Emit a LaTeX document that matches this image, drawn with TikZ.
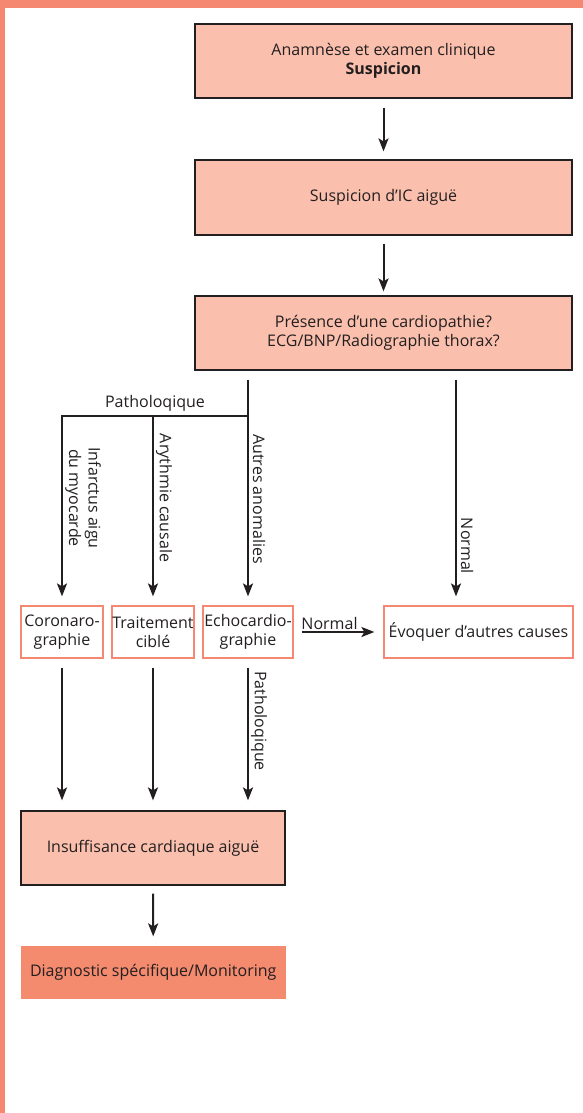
\documentclass[tikz,border=0pt]{standalone}
\usepackage{fontspec}
\setmainfont{Open Sans}
\usetikzlibrary{arrows.meta, positioning}
\definecolor{frame}{HTML}{F58870}
\definecolor{pale}{HTML}{FBC0AD}
\definecolor{deep}{HTML}{F48A6E}
\definecolor{ink}{HTML}{231F20}

\begin{document}
\begin{tikzpicture}[x = 1pt, y = -1pt,
        every node/.style = {font = \fontsize{16}{19.5}\selectfont, text = ink},
        mainbox/.style = {draw = ink, line width = 1.2pt, fill = pale, minimum width = 377pt, minimum height = 74pt, align = center, inner sep = 0pt},
        smallbox/.style = {draw = frame, line width = 1.2pt, fill = white, minimum height = 52pt, align = center, inner sep = 0pt},
        link/.style = {draw = ink, line width = 2pt, -{Stealth[length = 13pt, width = 10pt, inset = 3pt]}},
        lab/.style = {inner sep = 0pt, align = center}]
        \useasboundingbox (0, 0) rectangle (583, 1113);
        \fill [frame] (0, 0) rectangle (583, 8);
        \fill [frame] (0, 0) rectangle (4.5, 1113);

        \node [mainbox] (anam) at (383.5, 61) {Anamnèse et examen clinique\\\textbf{Suspicion}};
        \node [mainbox, minimum height = 75pt] (susp) at (383.5, 197.5) {Suspicion d’IC aiguë};
        \node [mainbox] (pres) at (383.5, 333) {Présence d’une cardiopathie?\\ECG/BNP/Radiographie thorax?};

        \node [smallbox, minimum width = 82pt] (coro) at (62, 632) {Coronaro-\\graphie};
        \node [smallbox, minimum width = 82pt] (trait) at (153, 632) {Traitement\\ciblé};
        \node [smallbox, minimum width = 90pt] (echo) at (248, 632) {Echocardio-\\graphie};
        \node [smallbox, minimum width = 189pt] (autres) at (478.5, 632) {Évoquer d’autres causes};

        \node [mainbox, minimum width = 264pt] (ica) at (153, 848) {Insuffisance cardiaque aiguë};
        \node [mainbox, draw = none, fill = deep, minimum width = 264.5pt, minimum height = 53pt] (diag) at (153.25, 972.5) {Diagnostic spécifique/Monitoring};

        \coordinate (fork) at (248, 416);
        \coordinate (normx) at (456, 0);

        % top chain
        \draw [link, shorten < = 9pt, shorten > = 8pt] (anam.south) -- (susp.north);
        \draw [link, shorten < = 8pt, shorten > = 4pt] (susp.south) -- (pres.north);

        % pathological branches
        \draw [link, shorten < = 9pt, shorten > = 9pt] (pres.south -| echo) -- (echo.north);
        \draw [link, shorten > = 9pt] (fork) -- node [lab, above = 4pt] (patho) {Patholoqique} (fork -| coro) -- (coro.north);
        \draw [link, shorten > = 9pt] (fork -| trait) -- (trait.north);
        \node [lab, rotate = -90] (infarct) at (83, 498) {Infarctus aigu\\du myocarde};
        \node [lab, rotate = -90] (arythm) at (164, 498) {Arythmie causale};
        \node [lab, rotate = -90] (anomal) at (259, 499) {Autres anomalies};

        % normal branch
        \draw [link, shorten < = 9pt, shorten > = 9pt] (pres.south -| normx) -- (autres.north -| normx);
        \node [lab, rotate = -90] (normv) at (467, 546) {Normal};
        \draw [link, shorten < = 8pt, shorten > = 9pt] (echo.east) -- node [lab, pos = 0.4, above = 1.5pt] (normh) {Normal} (autres.west);

        % towards the diagnosis
        \draw [link, shorten < = 9pt, shorten > = 10pt] (coro.south) -- (coro.south |- ica.north);
        \draw [link, shorten < = 9pt, shorten > = 10pt] (trait.south) -- (trait.south |- ica.north);
        \draw [link, shorten < = 9pt, shorten > = 10pt] (echo.south) -- (echo.south |- ica.north);
        \node [lab, rotate = -90] (patho2) at (259, 721) {Patholoqique};
        \draw [link, shorten < = 8pt, shorten > = 9pt] (ica.south) -- (diag.north);
    \end{tikzpicture}
\end{document}
